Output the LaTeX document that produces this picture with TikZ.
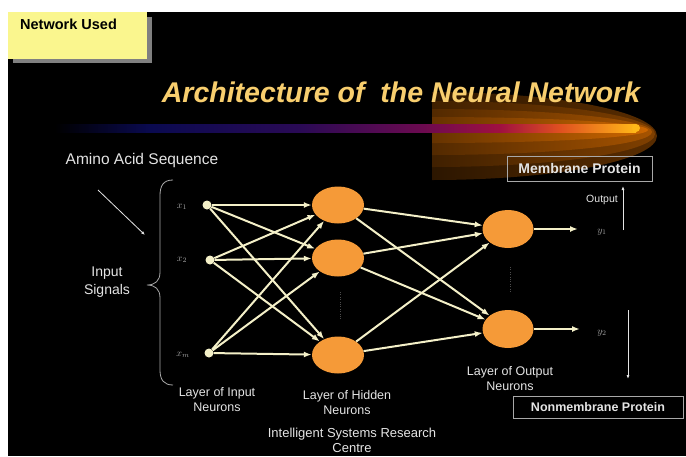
\documentclass[tikz,border=0pt]{standalone}
\usepackage{fontspec}
\setmainfont{Liberation Sans}
\usetikzlibrary{arrows.meta,shapes.geometric}
\definecolor{titlegold}{HTML}{F8CE6E}
\definecolor{cream}{HTML}{F4F0C8}
\definecolor{neuronorange}{HTML}{F59A38}
\definecolor{labelgray}{HTML}{E4E4E4}
\definecolor{notegray}{HTML}{A8A8A8}
\definecolor{memoyellow}{HTML}{FAF68E}
\definecolor{barnavy}{RGB}{10,10,80}
\definecolor{barviolet}{RGB}{42,10,85}
\definecolor{barplum}{RGB}{106,10,80}
\definecolor{barcrimson}{RGB}{160,16,64}
\definecolor{barflame}{RGB}{224,80,32}
\definecolor{baramber}{RGB}{255,184,24}
\definecolor{glowdark}{RGB}{40,20,2}
\newcommand{\fs}[2][15]{\fontsize{#2}{#1}\selectfont}

\begin{document}
\begin{tikzpicture}[x=1pt, y=-1pt,
  neuron/.style={ellipse, fill=neuronorange, inner sep=0pt},
  dot/.style={circle, fill=cream, inner sep=0pt, minimum size=9pt},
  link/.style={cream, line width=2pt, -{Latex[length=8pt,width=6pt]}},
  lbl/.style={text=labelgray, align=center, font=\fs{12.5}},
  sym/.style={text=notegray, font=\fs{10}},
  thin arrow/.style={labelgray, line width=0.8pt, -{Latex[length=4pt,width=3pt]}},
  classbox/.style={draw=notegray, line width=0.8pt, text=labelgray, inner sep=0pt}]

\useasboundingbox (0,0) rectangle (686,456);
\fill[white] (0,0) rectangle (686,456);
\fill[black] (8,12) rectangle (686,456);

% memo box in the corner
\fill[gray] (13,17) rectangle (152,63);
\fill[memoyellow] (8,12) rectangle (147,59);
\node[anchor=north west, inner sep=0pt, font=\bfseries\fs{14.5}] (memo) at (20,19) {Network Used};

% glow behind the bar
\begin{scope}
\clip (432,80) rectangle (686,200);
\shade[left color=black, middle color=glowdark, right color=orange!35!black] (432,136) ellipse [x radius=225, y radius=44];
\shade[left color=black, middle color=orange!25!black, right color=orange!50!black] (432,134) ellipse [x radius=223, y radius=33];
\shade[left color=black, middle color=orange!30!black, right color=orange!65!black] (432,132) ellipse [x radius=220, y radius=23];
\shade[left color=black, middle color=orange!35!black, right color=orange!80!black] (432,130) ellipse [x radius=216, y radius=13];
\end{scope}

% colour bar
\shade[left color=black, right color=barnavy] (55,124) rectangle (150,132);
\shade[left color=barnavy, right color=barviolet] (150,124) rectangle (300,132);
\shade[left color=barviolet, right color=barplum] (300,124) rectangle (420,132);
\shade[left color=barplum, right color=barcrimson] (420,124) rectangle (500,132);
\shade[left color=barcrimson, right color=barflame] (500,124) rectangle (560,132);
\shade[left color=barflame, right color=baramber] (560,124) rectangle (636,132);
\fill[baramber] (636,128) circle (4);

\node[text=titlegold, font=\bfseries\itshape\fs{28.5}] (title) at (401,92) {Architecture of\ \ the Neural Network};

% input side
\node[text=labelgray, font=\fs{15.5}] (amino) at (142,160) {Amino Acid Sequence};
\coordinate (aminoA) at (98,190);
\coordinate (aminoB) at (145,235);
\draw[thin arrow] (aminoA) -- (aminoB);
\node[text=labelgray, align=center, font={\fs[18]{14}}] (signals) at (107,282) {Input\\Signals};
\draw[notegray, line width=0.8pt] (173,180) .. controls (163,180) and (160,186) .. (160,196) -- (160,272)
  .. controls (160,281) and (155,285) .. (147,285) .. controls (155,285) and (160,289) .. (160,298)
  -- (160,370) .. controls (160,380) and (164,385) .. (173,385);

% neurons
\node[dot] (in1) at (207,205) {};
\node[dot] (in2) at (210,260) {};
\node[dot] (inm) at (209,353) {};
\node[sym] (x1) at (182,207) {$x_1$};
\node[sym] (x2) at (182,260) {$x_2$};
\node[sym] (xm) at (183,355) {$x_m$};

\node[neuron, minimum width=52pt, minimum height=37pt] (h1) at (338,205) {};
\node[neuron, minimum width=52pt, minimum height=37pt] (h2) at (338,258) {};
\node[neuron, minimum width=52pt, minimum height=37pt] (h3) at (338,355) {};
\node[neuron, minimum width=51pt, minimum height=38pt] (o1) at (508,229) {};
\node[neuron, minimum width=51pt, minimum height=38pt] (o2) at (508,329) {};

\foreach \a in {in1,in2,inm}
  \foreach \b in {h1,h2,h3}
    \draw[link] (\a) -- (\b);
\foreach \a in {h1,h2,h3}
  \foreach \b in {o1,o2}
    \draw[link] (\a) -- (\b);

\draw[gray!60!black, dotted] (340,292) -- (340,320);
\draw[gray!60!black, dotted] (510,267) -- (510,293);

% outputs
\coordinate (t1) at (578,229);
\coordinate (t2) at (580,329);
\draw[link] (o1) -- (t1);
\draw[link] (o2) -- (t2);
\node[sym] (y1) at (602,232) {$y_1$};
\node[sym] (y2) at (602,333) {$y_2$};

\node[text=labelgray, font=\fs{10.5}] (outlbl) at (602,200) {Output};
\coordinate (upA) at (623,230);
\coordinate (upB) at (623,186);
\draw[thin arrow] (upA) -- (upB);
\coordinate (dnA) at (628,310);
\coordinate (dnB) at (628,379);
\draw[thin arrow] (dnA) -- (dnB);

\node[classbox, minimum width=145pt, minimum height=25pt, font=\bfseries\fs{14}] (mem) at (579.5,168.5) {Membrane Protein};
\node[classbox, minimum width=170pt, minimum height=22pt, font=\bfseries\fs{12.5}] (nonmem) at (598,407) {Nonmembrane Protein};

% layer captions
\node[lbl] (inlayer) at (217,400) {Layer of Input\\Neurons};
\node[lbl] (hidlayer) at (347,403) {Layer of Hidden\\Neurons};
\node[lbl] (outlayer) at (510,379) {Layer of Output\\Neurons};
\node[lbl, font=\fs{13}] (centre) at (352,440) {Intelligent Systems Research\\Centre};

\end{tikzpicture}
\end{document}
